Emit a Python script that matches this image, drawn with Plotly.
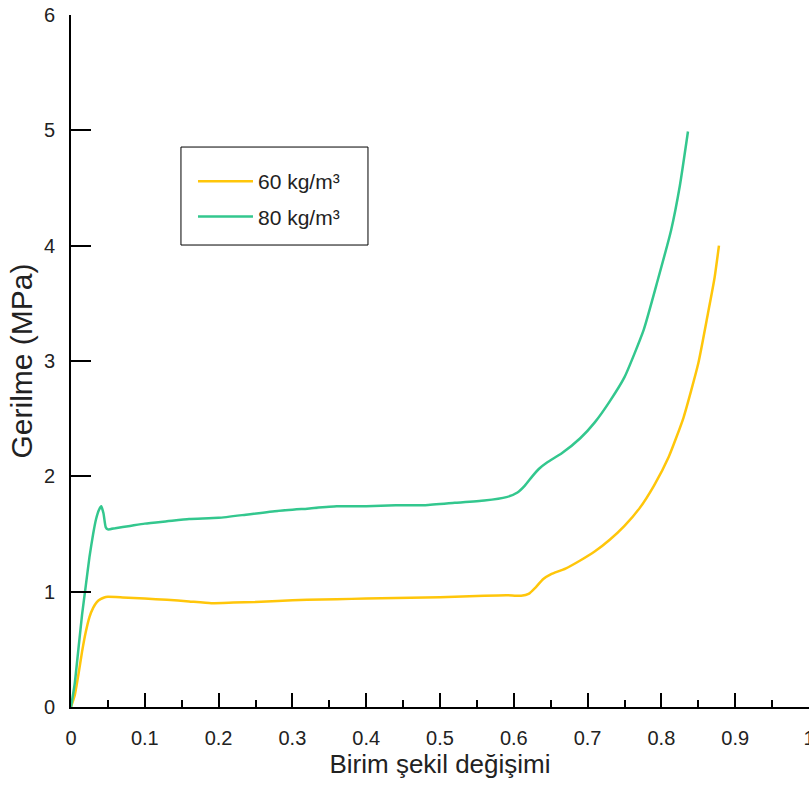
import plotly.graph_objects as go

# 60 kg/m3 series
strain_60 = [0, 0.005, 0.01, 0.015, 0.02, 0.025, 0.03, 0.035, 0.04, 0.045, 0.05, 0.07, 0.1, 0.13,
             0.16, 0.19, 0.22, 0.25, 0.28, 0.32, 0.36, 0.4, 0.44, 0.48, 0.52, 0.56, 0.59, 0.61, 0.62,
             0.63, 0.64, 0.65, 0.67, 0.69, 0.71, 0.73, 0.75, 0.77, 0.79, 0.81, 0.83, 0.85, 0.863,
             0.872, 0.878]
stress_60 = [0, 0.1, 0.28, 0.48, 0.65, 0.78, 0.86, 0.91, 0.935, 0.95, 0.955, 0.95, 0.94, 0.93,
             0.915, 0.9, 0.905, 0.91, 0.92, 0.93, 0.935, 0.94, 0.945, 0.95, 0.955, 0.965, 0.97, 0.965,
             0.98, 1.04, 1.11, 1.15, 1.2, 1.27, 1.35, 1.45, 1.57, 1.72, 1.92, 2.17, 2.51, 2.98, 3.41,
             3.72, 4.0]

# 80 kg/m3 series
strain_80 = [0, 0.005, 0.01, 0.015, 0.02, 0.025, 0.03, 0.034, 0.038, 0.041, 0.044, 0.047, 0.05,
             0.06, 0.08, 0.1, 0.13, 0.16, 0.2, 0.24, 0.28, 0.32, 0.36, 0.4, 0.44, 0.48, 0.52, 0.56,
             0.59, 0.605, 0.615, 0.625, 0.635, 0.645, 0.665, 0.69, 0.71, 0.73, 0.75, 0.776, 0.795,
             0.813, 0.825, 0.836]
stress_80 = [0, 0.2, 0.5, 0.8, 1.05, 1.3, 1.5, 1.63, 1.71, 1.74, 1.68, 1.56, 1.54,
             1.55, 1.57, 1.59, 1.61, 1.63, 1.64, 1.67, 1.70, 1.72, 1.74, 1.74, 1.75, 1.75, 1.77, 1.79,
             1.82, 1.86, 1.92, 2.0, 2.07, 2.12, 2.2, 2.33, 2.47, 2.65, 2.86, 3.27, 3.70,
             4.13, 4.52, 4.99]

x_ticks = [0, 0.1, 0.2, 0.3, 0.4, 0.5, 0.6, 0.7, 0.8, 0.9, 1]
x_tick_labels = ["0", "0.1", "0.2", "0.3", "0.4", "0.5", "0.6", "0.7", "0.8", "0.9", "1"]
y_ticks = [0, 1, 2, 3, 4, 5, 6]

FONT = "Liberation Sans, Arial, sans-serif"

fig = go.Figure()
fig.add_trace(go.Scatter(x=strain_60, y=stress_60, mode="lines", name="60 kg/m³",
                         legendgroup="a",
                         line=dict(color="#FFC60A", width=2.5, shape="spline", smoothing=0.5)))
fig.add_trace(go.Scatter(x=strain_80, y=stress_80, mode="lines", name="80 kg/m³",
                         legendgroup="b",
                         line=dict(color="#33C78E", width=2.5, shape="spline", smoothing=0.5)))

# legend frame
fig.add_shape(type="rect", xref="paper", yref="paper",
              x0=0.149, x1=0.4024, y0=0.6676, y1=0.8092,
              line=dict(color="black", width=1), fillcolor="rgba(0,0,0,0)")

fig.update_layout(
    width=809, height=789,
    margin=dict(l=71, r=0, t=15, b=82),
    plot_bgcolor="white", paper_bgcolor="white",
    font=dict(family=FONT, color="#222222", size=20),
    showlegend=True,
    legend=dict(x=0.1653, y=0.789, xanchor="left", yanchor="top",
                borderwidth=0, bgcolor="rgba(0,0,0,0)",
                font=dict(size=21, color="#222222"), itemwidth=55,
                tracegroupgap=5),
    xaxis=dict(range=[0, 1], tickvals=x_ticks, ticktext=x_tick_labels,
               ticks="inside", ticklen=14, tickwidth=2, tickcolor="black",
               showline=True, linecolor="black", linewidth=2, showgrid=False,
               zeroline=False, ticklabelstandoff=12, ticklabeloverflow="allow",
               automargin=False,
               tickfont=dict(size=20),
               minor=dict(dtick=0.05, tick0=0, ticks="inside", ticklen=7, tickwidth=2,
                          tickcolor="black", showgrid=False),
               title=dict(text="Birim şekil değişimi", font=dict(size=26), standoff=2)),
    yaxis=dict(range=[0, 6], tickvals=y_ticks,
               ticks="inside", ticklen=20, tickwidth=2, tickcolor="black",
               showline=True, linecolor="black", linewidth=2, showgrid=False,
               zeroline=False, ticklabelstandoff=10, automargin=False,
               tickfont=dict(size=20),
               title=dict(text="Gerilme (MPa)", font=dict(size=30), standoff=2)),
)

fig.write_html("out.html")
